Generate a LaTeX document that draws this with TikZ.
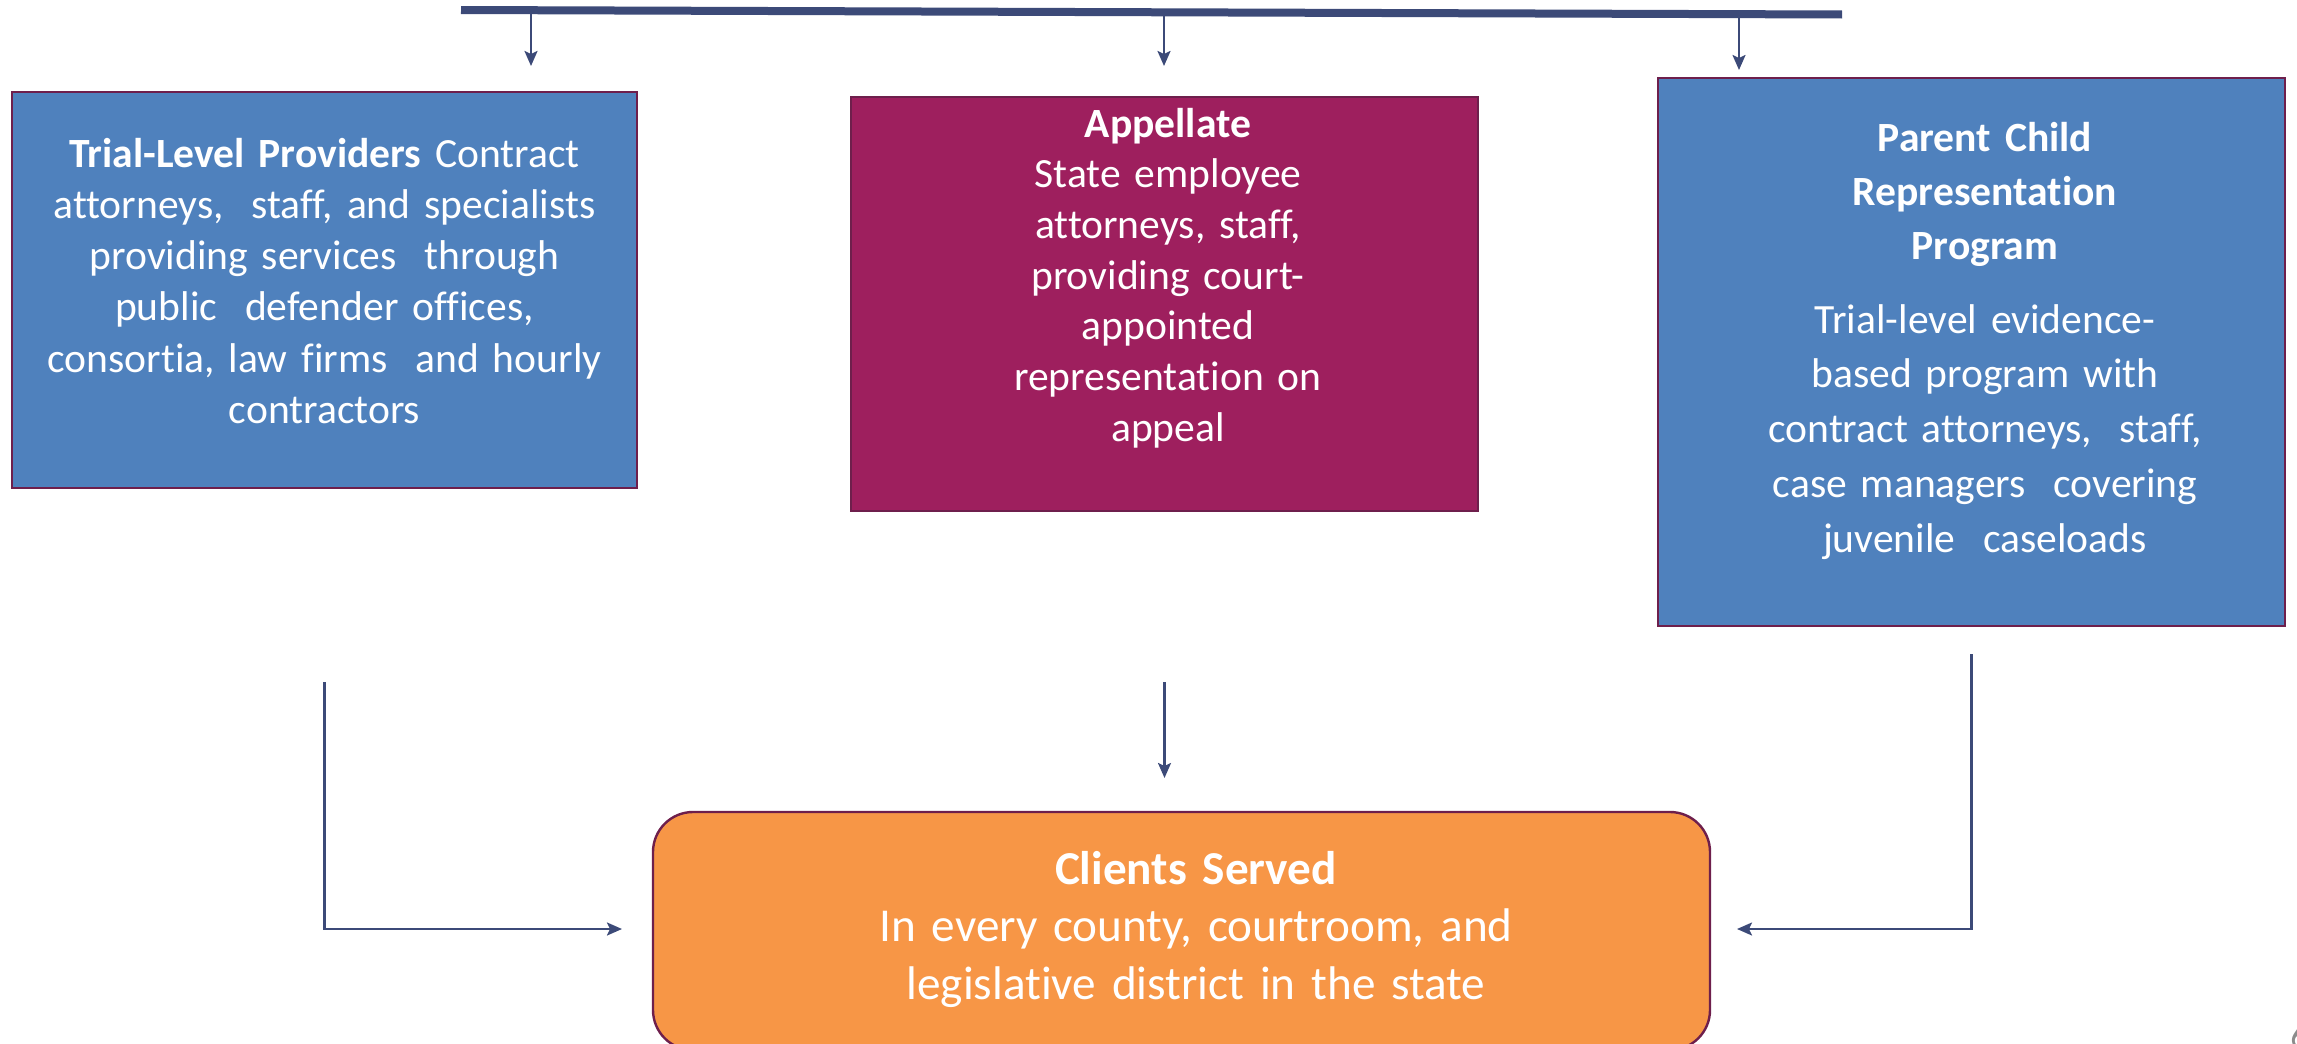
\documentclass[tikz,border=0pt]{standalone}
\usepackage{fontspec}
\setmainfont{Carlito}[Ligatures={NoCommon}]
\usetikzlibrary{arrows.meta}
\definecolor{boxblue}{HTML}{4F81BD}
\definecolor{boxmag}{HTML}{9E1F5E}
\definecolor{boxorange}{HTML}{F79646}
\definecolor{edgecol}{HTML}{6E1F4C}
\definecolor{navy}{HTML}{3C4A78}
\definecolor{pagenum}{HTML}{8C8C8C}
\begin{document}
\begin{tikzpicture}[x=0.5pt,y=-0.5pt,
  panel/.style={draw=edgecol, line width=1.2pt, inner sep=0pt, outer sep=0pt},
  boxtext/.style={text=white, text width=300pt, align=center, anchor=base, inner sep=0pt},
  conn/.style={draw=navy, line width=1.1pt, -{Stealth[length=7.5pt,width=6.5pt,inset=1.5pt]}}]
\useasboundingbox (0,0) rectangle (2297,1044);
\clip (0,0) rectangle (2297,1044);

% boxes
\node[panel, fill=boxblue, minimum width=312.5pt, minimum height=198pt] (trial) at (324.5,290) {};
\node[panel, fill=boxmag, minimum width=313.5pt, minimum height=207pt] (appel) at (1164.5,304) {};
\node[panel, fill=boxblue, minimum width=313.5pt, minimum height=274pt] (pcrp) at (1971.5,352) {};
\node[panel, fill=boxorange, rounded corners=20pt, minimum width=528.5pt, minimum height=119pt] (clients) at (1181.5,931) {};

% texts
\node[boxtext, font=\fontsize{20.8}{25.65}\selectfont] (trialtxt) at (324.5,167)
  {\textbf{Trial-Level Providers} Contract\\ attorneys,\ \ staff, and specialists\\ providing services\ \ through\\ public\ \ defender offices,\\ consortia, law firms\ \ and hourly\\ contractors};
\node[boxtext, font=\fontsize{20.8}{25.35}\selectfont] (appeltxt) at (1168,137)
  {\textbf{Appellate}\\ State employee\\ attorneys, staff,\\ providing court-\\ appointed\\ representation on\\ appeal};
\node[boxtext, font=\fontsize{20.8}{27}\selectfont\bfseries] (pcrptitle) at (1985,151)
  {Parent Child\\ Representation\\ Program};
\node[boxtext, font=\fontsize{20.8}{27.4}\selectfont] (pcrptxt) at (1985,333)
  {Trial-level evidence-\\ based program with\\ contract attorneys,\ \ staff,\\ case managers\ \ covering\\ juvenile\ \ caseloads};
\node[boxtext, text width=500pt, font=\fontsize{23.6}{28.75}\selectfont] (clientstxt) at (1196,884)
  {\textbf{Clients Served}\\ In every county, courtroom, and\\ legislative district in the state};

% page number
\node[text=pagenum, font=\fontsize{18}{20}\selectfont, anchor=base west, inner sep=0pt] (pnum) at (2290,1048) {6};

% top bar and arrows
\coordinate (barL) at (461,10);
\coordinate (barR) at (1842,14.5);
\draw[navy, line width=4pt] (barL) -- (barR);
\coordinate (t1s) at (531,10.5);  \coordinate (t1e) at (531,66);
\coordinate (t2s) at (1164,12.5); \coordinate (t2e) at (1164,66);
\coordinate (t3s) at (1739,14);   \coordinate (t3e) at (1739,70);
\draw[conn] (t1s) -- (t1e);
\draw[conn] (t2s) -- (t2e);
\draw[conn] (t3s) -- (t3e);

% bottom connectors
\coordinate (b1s) at (324.5,682); \coordinate (b1e) at (622,929);
\coordinate (b2s) at (1164.5,682); \coordinate (b2e) at (1164.5,778);
\coordinate (b3s) at (1971.5,654); \coordinate (b3e) at (1737,929);
\draw[conn] (b1s) |- (b1e);
\draw[conn] (b2s) -- (b2e);
\draw[conn] (b3s) |- (b3e);
\end{tikzpicture}
\end{document}
